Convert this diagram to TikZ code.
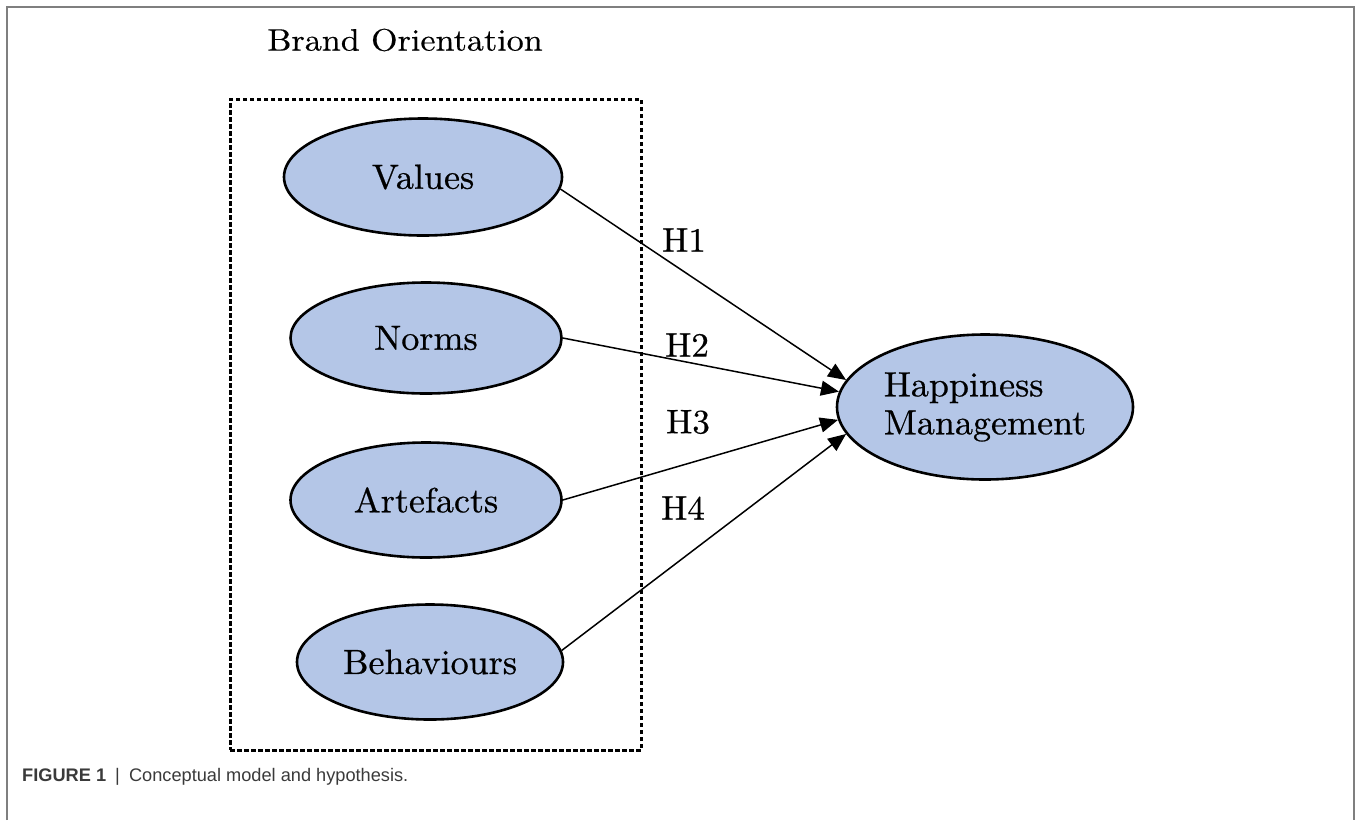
\documentclass[tikz,border=0pt]{standalone}
\usepackage{fontspec}
\newfontfamily\capfont{Liberation Sans}
\newfontfamily\wideface{lmroman10-regular.otf}[FakeStretch=1.03,FakeBold=0.6]
\newfontfamily\titleface{lmroman10-regular.otf}[FakeStretch=1.1,FakeBold=0.4]
\usetikzlibrary{shapes.geometric,arrows.meta}
\definecolor{ellfill}{HTML}{B4C6E7}
\definecolor{framegray}{HTML}{7F7F7F}
\definecolor{captext}{HTML}{3A3A3A}
\tikzset{
  ell/.style={ellipse, draw=black, line width=2.6pt, fill=ellfill, inner sep=0pt,
    font=\wideface\fontsize{35}{38}\selectfont},
  hyp/.style={-{Triangle[length=18pt,width=15pt]}, line width=1.5pt, black},
  hlabel/.style={font=\wideface\fontsize{34}{36}\selectfont, inner sep=0pt},
  dbox/.style={draw=black, line width=3pt, dash pattern=on 4.5pt off 2.5pt, inner sep=0pt},
  frameline/.style={draw=framegray, line width=2pt}
}
\begin{document}
\begin{tikzpicture}[x=1pt,y=-1pt]
\useasboundingbox (0,0) rectangle (1356,820);
% figure frame
\coordinate (fbl) at (7,820);
\coordinate (ftl) at (7,7);
\coordinate (ftr) at (1354,7);
\coordinate (fbr) at (1354,820);
\draw[frameline] (fbl) -- (ftl) -- (ftr) -- (fbr);
% title
\node[font=\titleface\fontsize{31}{34}\selectfont, inner sep=0pt] (brand) at (405,40) {Brand Orientation};
% dashed group box
\node[dbox, minimum width=411pt, minimum height=651pt] (box) at (435.5,424.5) {};
% ellipses
\node[ell, minimum width=278pt, minimum height=117pt] (values) at (423,177) {Values};
\node[ell, minimum width=271pt, minimum height=111pt] (norms) at (426,338) {Norms};
\node[ell, minimum width=271pt, minimum height=115pt] (artefacts) at (426,500) {Artefacts};
\node[ell, minimum width=266pt, minimum height=115pt] (behaviours) at (430,662) {Behaviours};
\node[ell, minimum width=296pt, minimum height=145pt, align=left] (hm) at (985,407) {Happiness\\Management};
% connectors
\draw[hyp] (values.-5) -- (hm.169.5);
\draw[hyp] (norms.east) -- (hm.174.5);
\draw[hyp] (artefacts.east) -- (hm.185);
\draw[hyp] (behaviours.5) -- (hm.191);
% hypothesis labels
\node[hlabel] (h1) at (684,240) {H1};
\node[hlabel] (h2) at (687,345) {H2};
\node[hlabel] (h3) at (688,422) {H3};
\node[hlabel] (h4) at (683,508) {H4};
% caption
\node[anchor=base west, inner sep=0pt, text=captext, font=\capfont\fontsize{18.2}{20}\selectfont] (cap) at (22,781)
  {\textbf{FIGURE 1}\enspace|\enspace Conceptual model and hypothesis.};
\end{tikzpicture}
\end{document}
